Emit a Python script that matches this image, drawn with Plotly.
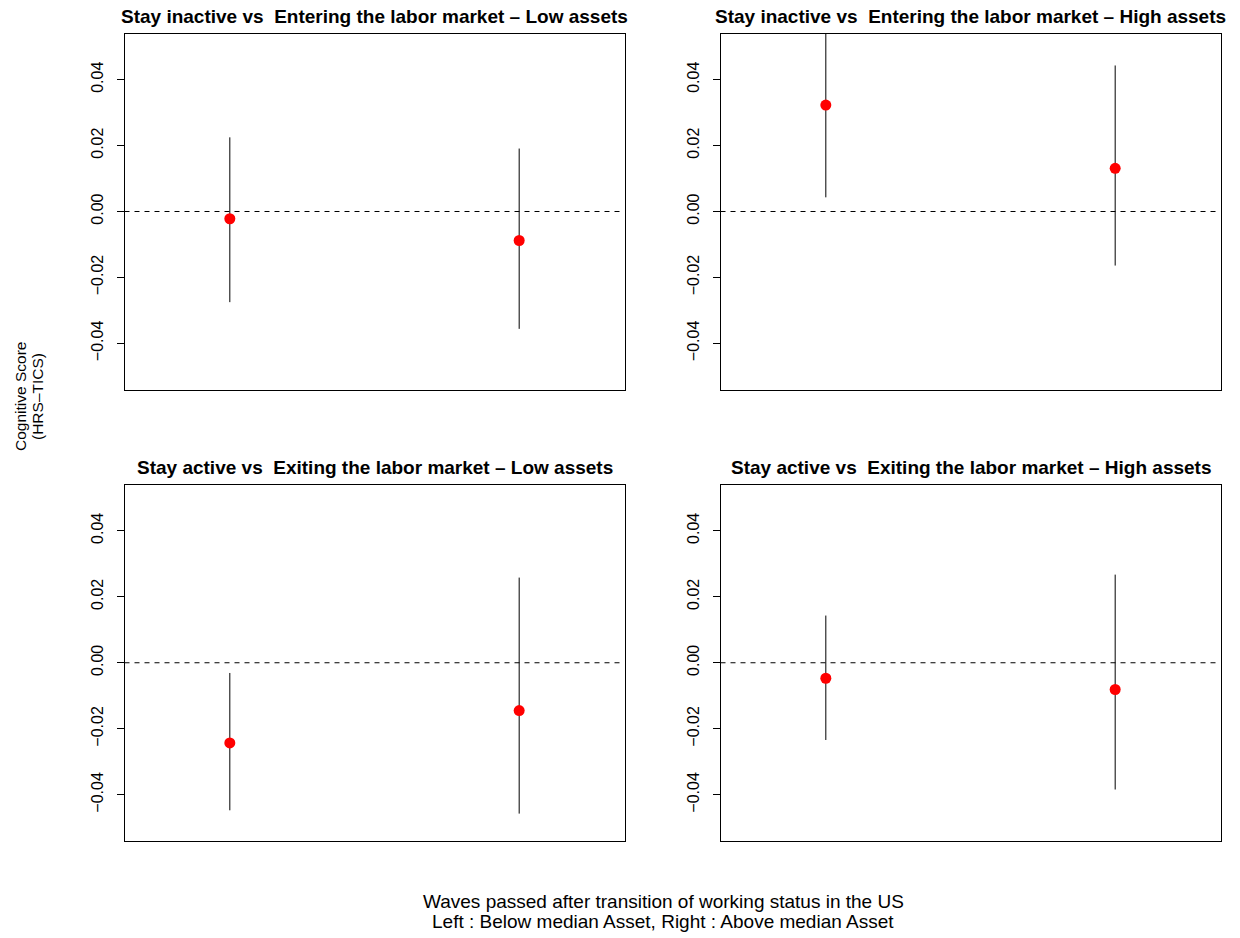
import plotly.graph_objects as go

# ---- data ----
titles = [
    "Stay inactive vs \u00a0Entering the labor market \u2013 Low assets",
    "Stay inactive vs \u00a0Entering the labor market \u2013 High assets",
    "Stay active vs \u00a0Exiting the labor market \u2013 Low assets",
    "Stay active vs \u00a0Exiting the labor market \u2013 High assets",
]
x_pos = [1, 2]
est_p1 = [-0.0022, -0.0088]
lo_p1 = [-0.0275, -0.0356]
hi_p1 = [0.0225, 0.0191]

est_p2 = [0.0323, 0.0131]
lo_p2 = [0.0043, -0.0164]
hi_p2 = [0.0604, 0.0443]

est_p3 = [-0.0243, -0.0145]
lo_p3 = [-0.0447, -0.0457]
hi_p3 = [-0.0031, 0.0258]

est_p4 = [-0.0047, -0.0081]
lo_p4 = [-0.0234, -0.0384]
hi_p4 = [0.0143, 0.0267]

y_ticks = [-0.04, -0.02, 0.0, 0.02, 0.04]

x_label_lines = [
    "Waves passed after transition of working status in the US",
    "Left : Below median Asset, Right : Above median Asset",
]
y_label_lines = ["Cognitive Score", "(HRS\u2013TICS)"]

panels = [
    (est_p1, lo_p1, hi_p1),
    (est_p2, lo_p2, hi_p2),
    (est_p3, lo_p3, hi_p3),
    (est_p4, lo_p4, hi_p4),
]

W, H = 1240, 938
FONT = "Liberation Sans, Arial, Helvetica, sans-serif"

# panel boxes in pixels (left, right, top, bottom)
boxes = [
    (124.5, 624.5, 33.5, 389.5),
    (720.5, 1220.5, 33.5, 389.5),
    (124.5, 624.5, 484.5, 841.0),
    (720.5, 1220.5, 484.5, 841.0),
]

fig = go.Figure()
layout = dict(
    width=W, height=H,
    margin=dict(l=0, r=0, t=0, b=0),
    paper_bgcolor="white", plot_bgcolor="white",
    showlegend=False,
    font=dict(family=FONT, color="black", size=16),
    shapes=[], annotations=[],
)

for i, ((est, lo, hi), (l, r, t, b)) in enumerate(zip(panels, boxes)):
    n = "" if i == 0 else str(i + 1)
    xa, ya = "x" + n, "y" + n
    layout["xaxis" + n] = dict(
        domain=[l / W, r / W], range=[0.636, 2.364], anchor=ya,
        showticklabels=False, ticks="", showgrid=False, zeroline=False,
        showline=True, mirror=True, linecolor="black", linewidth=1,
    )
    layout["yaxis" + n] = dict(
        domain=[1 - b / H, 1 - t / H], range=[-0.054, 0.054], anchor=xa,
        tickvals=y_ticks, tickformat=".2f", ticks="outside", ticklen=7,
        tickcolor="black", tickwidth=1, tickangle=-90, ticklabelstandoff=7,
        tickfont=dict(size=16, family=FONT, color="black"),
        showgrid=False, zeroline=False,
        showline=True, mirror=True, linecolor="black", linewidth=1,
    )
    # zero reference line
    layout["shapes"].append(dict(
        type="line", xref=xa + " domain", yref=ya, x0=0, x1=1, y0=0, y1=0,
        line=dict(color="black", width=1, dash="5px,5px"), layer="below",
    ))
    # confidence intervals
    xs, ys = [], []
    for xv, a, c in zip(x_pos, lo, hi):
        xs += [xv, xv, None]
        ys += [a, c, None]
    fig.add_trace(go.Scatter(x=xs, y=ys, mode="lines", xaxis=xa, yaxis=ya,
                             line=dict(color="black", width=1),
                             hoverinfo="skip"))
    # point estimates
    fig.add_trace(go.Scatter(x=x_pos, y=est, mode="markers", xaxis=xa, yaxis=ya,
                             marker=dict(color="#FF0000", size=11,
                                         line=dict(width=0))))
    # panel title
    layout["annotations"].append(dict(
        text="<b>" + titles[i] + "</b>", xref="paper", yref="paper",
        x=(l + r) / 2 / W, y=1 - (t - 17) / H, xanchor="center", yanchor="middle",
        showarrow=False, font=dict(size=19, family=FONT, color="black"),
    ))

for txt, ypx in zip(x_label_lines, [901, 921]):
    layout["annotations"].append(dict(
        text=txt, xref="paper", yref="paper", x=663 / W, y=1 - ypx / H,
        xanchor="center", yanchor="middle", showarrow=False,
        font=dict(size=19, family=FONT, color="black"),
    ))
for txt, xpx in zip(y_label_lines, [20, 37]):
    layout["annotations"].append(dict(
        text=txt, xref="paper", yref="paper", x=xpx / W, y=1 - 397 / H,
        xanchor="center", yanchor="middle", showarrow=False, textangle=-90,
        font=dict(size=15.5, family=FONT, color="black"),
    ))

fig.update_layout(**layout)
fig.write_html("out.html")
